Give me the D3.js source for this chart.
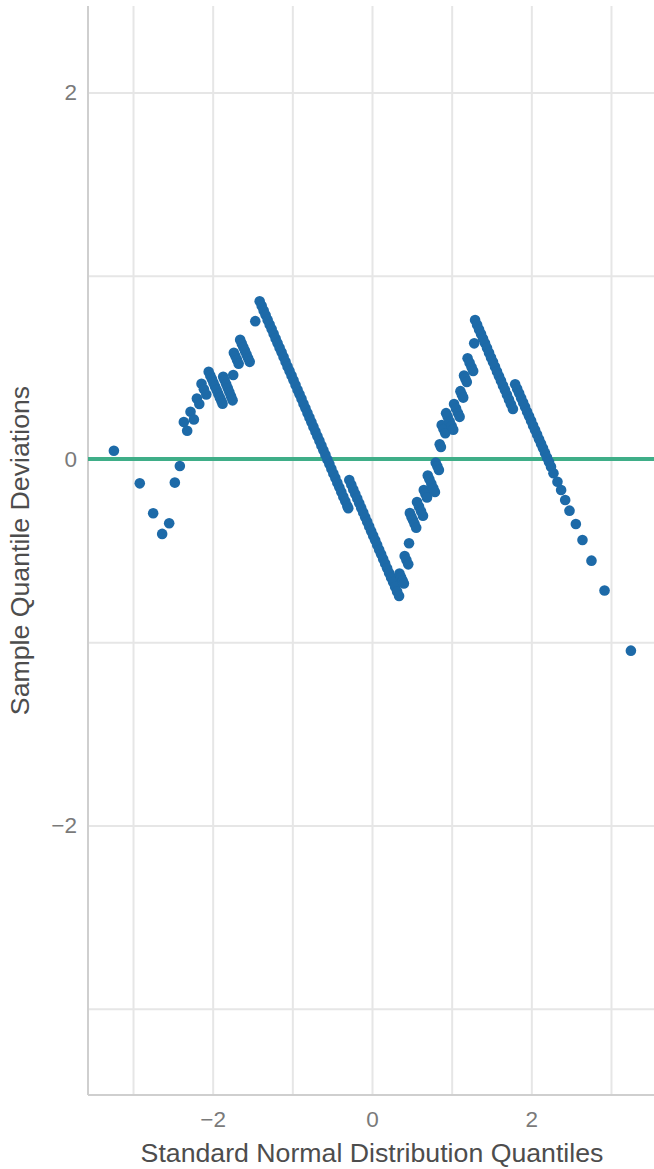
<!DOCTYPE html>
<html>
<head>
<meta charset="utf-8">
<script src="https://d3js.org/d3.v7.min.js"></script>
<style>
body { margin: 0; background: #ffffff; }
svg { display: block; font-family: "Liberation Sans", Arial, sans-serif; }
</style>
</head>
<body>
<div id="chart"></div>
<script>
// axis settings
var xDomain = [-3.565, 3.565];
var yDomain = [-3.471, 2.472];
var xGrid = [-3, -2, -1, 0, 1, 2, 3];
var yGrid = [-3, -2, -1, 0, 1, 2];
var xTicks = [-2, 0, 2];
var yTicks = [-2, 0, 2];
var xTitle = "Standard Normal Distribution Quantiles";
var yTitle = "Sample Quantile Deviations";
var refLine = 0;

// points: [theoretical quantile, deviation]
var leftTail = [
    [-3.24, 0.045], [-2.915, -0.133], [-2.747, -0.296], [-2.634, -0.409],
    [-2.546, -0.351], [-2.475, -0.129], [-2.412, -0.038]
];
var leftRise = [
    [-2.362, 0.202], [-2.32, 0.154],
    [-2.278, 0.258], [-2.236, 0.216],
    [-2.198, 0.33], [-2.168, 0.30],
    [-2.14, 0.41], [-2.11, 0.38], [-2.08, 0.352],
    [-2.05, 0.476], [-2.03, 0.456], [-2.01, 0.436], [-1.99, 0.416], [-1.97, 0.396],
    [-1.95, 0.376], [-1.93, 0.356], [-1.91, 0.336], [-1.89, 0.316], [-1.876, 0.302],
    [-1.868, 0.449], [-1.85, 0.43], [-1.83, 0.408], [-1.81, 0.386], [-1.79, 0.364],
    [-1.77, 0.342], [-1.75, 0.32],
    [-1.742, 0.458],
    [-1.734, 0.58], [-1.714, 0.56], [-1.694, 0.54], [-1.674, 0.52],
    [-1.655, 0.65], [-1.635, 0.63], [-1.615, 0.61], [-1.595, 0.59], [-1.575, 0.57],
    [-1.555, 0.55], [-1.535, 0.53],
    [-1.465, 0.752]
];
var middleDrop = [
    [-1.41, 0.861], [-1.385, 0.836], [-1.36, 0.810], [-1.335, 0.785], [-1.31, 0.759],
    [-1.285, 0.734], [-1.26, 0.709], [-1.235, 0.683], [-1.21, 0.658], [-1.185, 0.632],
    [-1.16, 0.607], [-1.135, 0.582], [-1.11, 0.556], [-1.085, 0.531], [-1.06, 0.505],
    [-1.035, 0.480], [-1.01, 0.455], [-0.985, 0.429], [-0.96, 0.404], [-0.935, 0.378],
    [-0.91, 0.353], [-0.885, 0.328], [-0.86, 0.302], [-0.835, 0.277], [-0.81, 0.251],
    [-0.785, 0.226], [-0.76, 0.201], [-0.735, 0.175], [-0.71, 0.150], [-0.685, 0.124],
    [-0.66, 0.099], [-0.635, 0.074], [-0.61, 0.048], [-0.585, 0.023], [-0.56, -0.003],
    [-0.535, -0.028], [-0.51, -0.053], [-0.485, -0.079], [-0.46, -0.104], [-0.435, -0.130],
    [-0.41, -0.155], [-0.385, -0.180], [-0.36, -0.206], [-0.335, -0.231], [-0.31, -0.257],
    [-0.298, -0.269],
    [-0.285, -0.115], [-0.26, -0.140], [-0.235, -0.166], [-0.21, -0.191], [-0.185, -0.216],
    [-0.16, -0.242], [-0.135, -0.267], [-0.11, -0.292], [-0.085, -0.318], [-0.06, -0.343],
    [-0.035, -0.368], [-0.01, -0.394], [0.015, -0.419], [0.04, -0.444], [0.065, -0.470],
    [0.09, -0.495], [0.115, -0.520], [0.14, -0.546], [0.165, -0.571], [0.19, -0.596],
    [0.215, -0.622], [0.24, -0.647], [0.265, -0.672], [0.29, -0.698], [0.315, -0.723],
    [0.34, -0.748]
];
var rightRise = [
    [0.345, -0.625], [0.365, -0.645], [0.385, -0.665], [0.40, -0.68],
    [0.41, -0.53], [0.432, -0.552], [0.455, -0.575],
    [0.465, -0.46],
    [0.475, -0.295], [0.495, -0.315], [0.515, -0.335], [0.535, -0.355], [0.555, -0.375],
    [0.565, -0.235], [0.59, -0.26], [0.615, -0.285], [0.64, -0.31],
    [0.65, -0.17], [0.67, -0.19], [0.69, -0.21],
    [0.70, -0.09], [0.72, -0.11], [0.745, -0.135], [0.77, -0.16], [0.79, -0.18],
    [0.80, -0.02], [0.82, -0.04], [0.84, -0.06],
    [0.85, 0.08], [0.865, 0.065],
    [0.875, 0.185], [0.897, 0.163], [0.92, 0.14],
    [0.93, 0.25], [0.95, 0.23], [0.975, 0.205], [1.0, 0.18], [1.02, 0.16],
    [1.03, 0.30], [1.055, 0.275], [1.08, 0.25], [1.10, 0.23],
    [1.11, 0.37], [1.128, 0.352], [1.145, 0.335],
    [1.155, 0.455], [1.172, 0.438], [1.19, 0.42],
    [1.20, 0.55], [1.225, 0.525], [1.25, 0.50], [1.27, 0.48],
    [1.283, 0.631]
];
var rightDrop = [
    [1.294, 0.758], [1.319, 0.733], [1.344, 0.707], [1.369, 0.682], [1.394, 0.656],
    [1.419, 0.631], [1.444, 0.605], [1.469, 0.580], [1.494, 0.554], [1.519, 0.529],
    [1.544, 0.503], [1.569, 0.478], [1.594, 0.452], [1.619, 0.427], [1.644, 0.401],
    [1.669, 0.376], [1.694, 0.350], [1.719, 0.325], [1.744, 0.299], [1.769, 0.273],
    [1.797, 0.408], [1.822, 0.383], [1.847, 0.358], [1.872, 0.333], [1.897, 0.308],
    [1.922, 0.283], [1.947, 0.258], [1.972, 0.233], [1.997, 0.208], [2.022, 0.183],
    [2.047, 0.158], [2.072, 0.133], [2.097, 0.108], [2.122, 0.083], [2.147, 0.058],
    [2.172, 0.033], [2.197, 0.008], [2.222, -0.017], [2.247, -0.042]
];
var rightTail = [
    [2.278, -0.078], [2.328, -0.124], [2.374, -0.169], [2.425, -0.224], [2.479, -0.282],
    [2.559, -0.355], [2.642, -0.442], [2.755, -0.555], [2.919, -0.718], [3.25, -1.046]
];

var points = [].concat(leftTail, leftRise, middleDrop, rightRise, rightDrop, rightTail);

var W = 654, H = 1169;
var margin = {top: 6, right: -2, bottom: 74, left: 88};
var width = W - margin.left - margin.right;
var height = H - margin.top - margin.bottom;

var svg = d3.select("#chart").append("svg")
    .attr("width", W)
    .attr("height", H);

var g = svg.append("g")
    .attr("transform", "translate(" + margin.left + "," + margin.top + ")");

var x = d3.scaleLinear().domain(xDomain).range([0, width]);
var y = d3.scaleLinear().domain(yDomain).range([height, 0]);
var fmt = d3.format("d");

// grid
var gx = g.append("g")
    .call(d3.axisBottom(x).tickValues(xGrid).tickSize(height).tickFormat(""));
gx.selectAll(".tick line").attr("stroke", "#e6e6e6").attr("stroke-width", 2);
gx.select(".domain").remove();

var gy = g.append("g")
    .call(d3.axisLeft(y).tickValues(yGrid).tickSize(-width).tickFormat(""));
gy.selectAll(".tick line").attr("stroke", "#e6e6e6").attr("stroke-width", 2);
gy.select(".domain").remove();

// axis lines
g.append("line")
    .attr("x1", 0).attr("x2", 0)
    .attr("y1", 0).attr("y2", height)
    .attr("stroke", "#cfcfcf").attr("stroke-width", 2);
g.append("line")
    .attr("x1", 0).attr("x2", width)
    .attr("y1", height).attr("y2", height)
    .attr("stroke", "#cfcfcf").attr("stroke-width", 2);

// tick labels
var xAxis = g.append("g")
    .attr("transform", "translate(0," + height + ")")
    .call(d3.axisBottom(x).tickValues(xTicks).tickSize(0).tickPadding(16).tickFormat(fmt));
xAxis.select(".domain").remove();
xAxis.selectAll("text")
    .attr("font-size", 22.5)
    .attr("font-family", "Liberation Sans, Arial, sans-serif")
    .attr("fill", "#7a7a7a");

var yAxis = g.append("g")
    .call(d3.axisLeft(y).tickValues(yTicks).tickSize(0).tickPadding(11).tickFormat(fmt));
yAxis.select(".domain").remove();
yAxis.selectAll("text")
    .attr("font-size", 22.5)
    .attr("font-family", "Liberation Sans, Arial, sans-serif")
    .attr("fill", "#7a7a7a");

// zero reference line
g.append("line")
    .attr("x1", 0).attr("x2", width)
    .attr("y1", y(refLine)).attr("y2", y(refLine))
    .attr("stroke", "#3fae88")
    .attr("stroke-width", 4);

// points
g.append("g").selectAll("circle")
    .data(points)
    .join("circle")
    .attr("cx", function(d) { return x(d[0]); })
    .attr("cy", function(d) { return y(d[1]); })
    .attr("r", 5.3)
    .attr("fill", "#1d6aa8");

// titles
svg.append("text")
    .attr("x", margin.left + x(0))
    .attr("y", 1162)
    .attr("text-anchor", "middle")
    .attr("font-size", 26.7)
    .attr("fill", "#4d4d4d")
    .text(xTitle);

svg.append("text")
    .attr("transform", "translate(29," + (margin.top + height / 2) + ") rotate(-90)")
    .attr("text-anchor", "middle")
    .attr("font-size", 26.7)
    .attr("fill", "#4d4d4d")
    .text(yTitle);
</script>
</body>
</html>
